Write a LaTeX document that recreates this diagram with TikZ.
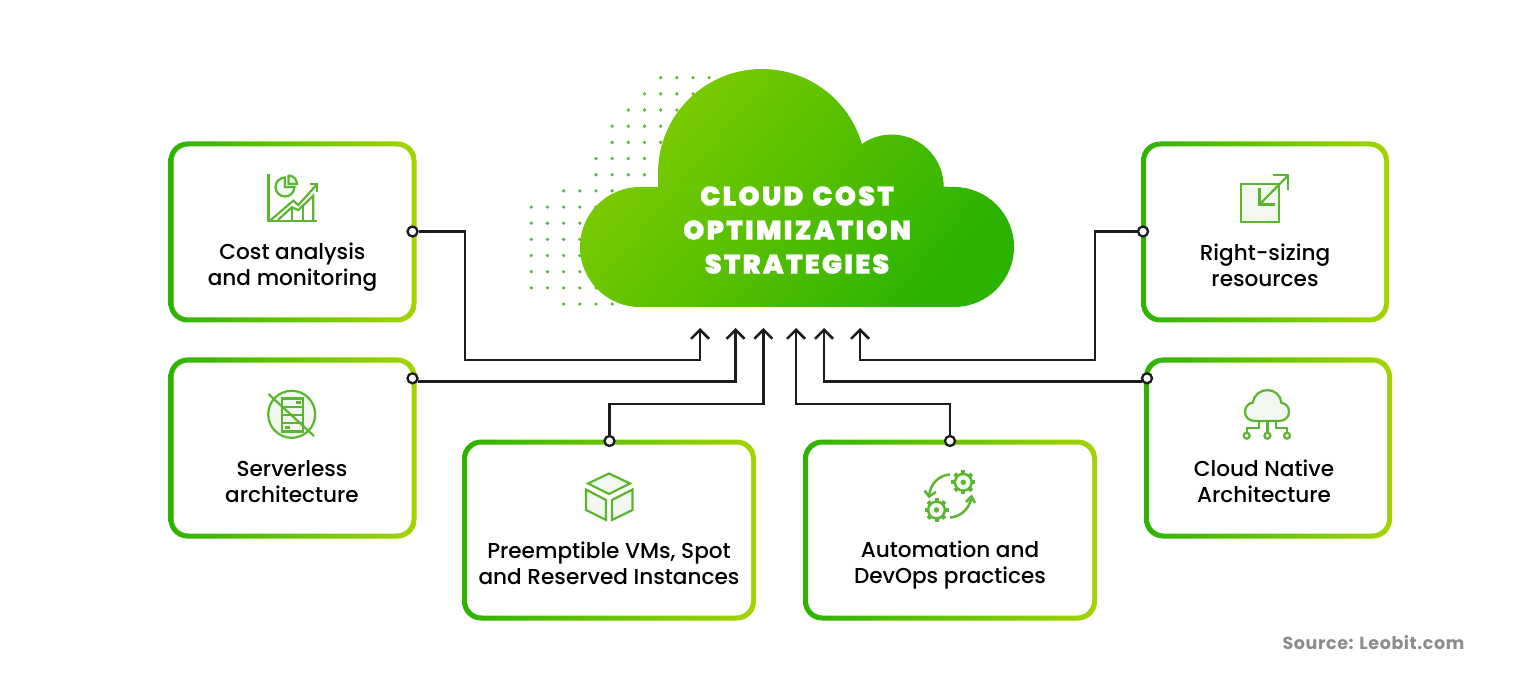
\documentclass[tikz,border=0pt]{standalone}
\usepackage{fontspec}
\setmainfont{Poppins Medium}
\newfontfamily\titlef{Poppins Black}[LetterSpace=8,WordSpace=1.3,FakeBold=0.6]
\newfontfamily\srcf{Poppins}[BoldFont=* Bold,LetterSpace=3.4]
\usetikzlibrary{arrows.meta}
\definecolor{gl}{HTML}{2DB300}
\definecolor{gr}{HTML}{A3D400}
\definecolor{cl}{HTML}{80CC00}
\definecolor{cd}{HTML}{2BB300}
\definecolor{ic}{HTML}{5AB52F}
\definecolor{pale}{HTML}{F2F7EF}
\definecolor{ink}{HTML}{1C1C1C}
\tikzset{
 outerbox/.style={rounded corners=19,left color=gl,right color=gr,draw=none,minimum height=181,inner sep=0},
 innerbox/.style={rounded corners=15,fill=white,draw=none,minimum height=171,inner sep=0},
 label/.style={align=center,font=\fontsize{21.6}{26}\selectfont,text=black,inner sep=0},
 port/.style={circle,draw=ink,fill=white,line width=2.3,minimum size=10,inner sep=0},
 conn/.style={draw=ink,line width=2.5,-{Straight Barb[length=9,width=18,line width=2.5]}},
 iconl/.style={draw=ic,line width=2.2,line cap=butt,line join=miter},
 ttl/.style={text=white,inner sep=0,font=\titlef\fontsize{27}{34}\selectfont},
}
\begin{document}
\begin{tikzpicture}[x=1pt,y=-1pt]
\useasboundingbox (0,0) rectangle (1536,700);
% dot texture
\foreach \j/\a/\b in {0/8/11,1/7/11,2/6/11,3/5/11,4/5/11,5/4/11,6/4/11,7/2/8,8/0/5,9/0/5,10/0/5,11/0/5,12/0/5,13/0/5,14/2/5}{
  \foreach \k in {\a,...,\b}{
    \fill[ic] ({531.3+16.17*\k},{77.7+16.17*\j}) circle (1.8);
  }
}
% cloud
\shade[top color=cl,bottom color=cd,shading angle=50]
  (640,307) arc[start angle=90,end angle=270,radius=60] -- (658,187) -- (658,173)
  arc[start angle=180,end angle=343.8,radius=104]
  arc[start angle=235,end angle=360,radius=52] -- (954,187)
  arc[start angle=270,end angle=450,radius=60] -- cycle;
\node[ttl] (t1) at (797,196) {CLOUD COST};
\node[ttl] (t2) at (797,230) {OPTIMIZATION};
\node[ttl] (t3) at (797,264) {STRATEGIES};
% boxes
\node[outerbox,minimum width=248] (a) at (292.5,232) {};
\node[innerbox,minimum width=238] at (a) {};
\node[outerbox,minimum width=248] (b) at (292.5,448) {};
\node[innerbox,minimum width=238] at (b) {};
\node[outerbox,minimum width=294] (c) at (609,530) {};
\node[innerbox,minimum width=284] at (c) {};
\node[outerbox,minimum width=294] (d) at (950,530) {};
\node[innerbox,minimum width=284] at (d) {};
\node[outerbox,minimum width=248] (e) at (1265,232) {};
\node[innerbox,minimum width=238] at (e) {};
\node[outerbox,minimum width=248] (f) at (1268,448) {};
\node[innerbox,minimum width=238] at (f) {};
% labels
\node[label] (la) at (292.5,267) {Cost analysis\\and monitoring};
\node[label] (lb) at (292,482) {Serverless\\architecture};
\node[label] (lc) at (609,563) {Preemptible VMs, Spot\\and Reserved Instances};
\node[label] (ld) at (950,565) {Automation and\\DevOps practices};
\node[label] (le) at (1265,265) {Right-sizing\\resources};
\node[label] (lf) at (1264,481) {Cloud Native\\Architecture};
\node[text=black!45,inner sep=0,font=\srcf\bfseries\fontsize{17.5}{20}\selectfont] (src) at (1373.5,643) {Source: Leobit.com};
% ports and connectors
\node[port] (pa) at (412.5,231.5) {};
\node[port] (pb) at (412.5,378.3) {};
\node[port] (pc) at (609.5,441) {};
\node[port] (pd) at (950,441) {};
\node[port] (pe) at (1143,231.5) {};
\node[port] (pf) at (1147,378.3) {};
\coordinate (ja) at (465,360);
\coordinate (je) at (1095,360);
\coordinate (jc) at (609.5,404);
\coordinate (jd) at (950,404);
\coordinate (ta) at (700,328);
\coordinate (tb) at (735.5,328);
\coordinate (tc) at (763.3,328);
\coordinate (td) at (796,328);
\coordinate (tf) at (824,328);
\coordinate (te) at (860,328);
\draw[conn] (pa) -| (ja) -| (ta);
\draw[conn] (pb.-30) -| (tb);
\draw[conn] (pc) -- (jc) -| (tc);
\draw[conn] (pd) -- (jd) -| (td);
\draw[conn] (pf.210) -| (tf);
\draw[conn] (pe) -| (je) -| (te);
% icon A chart
\begin{scope}[iconl]
 \draw (268.5,174) -- (268.5,221) -- (317,221);
 \draw (270,220.7) -- (293.3,200.7) -- (298.3,205) -- (316,185.5);
 \draw (309.5,184.3) -- (316.7,184.3) -- (316.7,192);
 \draw (278,220) -- (291.7,207.3) -- (298.3,210) -- (313.3,195.7) -- (313.3,220);
 \draw (291.7,207.3) -- (291.7,220) (303.3,206) -- (303.3,220);
 \draw[fill=pale] (285,177.5) arc[start angle=270,end angle=0,radius=9.5] -- (285,187) -- cycle;
 \draw[fill=pale] (288.5,175) -- (288.5,184) -- (297,184) arc[start angle=0,end angle=-90,radius=8.5] -- cycle;
\end{scope}
% icon B serverless
\begin{scope}[iconl]
 \draw[fill=pale] (291.7,414.3) circle (23.5);
 \draw[fill=pale] (282,398.5) rectangle (303,431.5);
 \draw (282,406.7) -- (303,406.7) (282,415) -- (303,415) (282,423.2) -- (303,423.2);
 \draw (268.5,394) -- (314,436);
 \draw (296,402.5) -- (301,402.5) (285,427.5) -- (290,427.5);
\end{scope}
% icon C cube
\begin{scope}[iconl]
 \draw[fill=pale] (609,473.5) -- (630,483.5) -- (609,494) -- (588,483.5) -- cycle;
 \draw[fill=pale] (586,489.5) -- (606,500) -- (606,520) -- (586,510) -- cycle;
 \draw[fill=pale] (632.5,489.5) -- (612,500) -- (612,520) -- (632.5,510) -- cycle;
\end{scope}
% icon D gears
\begin{scope}[iconl]
 \foreach \cx/\cy in {963.3/482.3,936.5/510}{
  \foreach \r in {0,45,...,315}{
    \draw[line width=4] ({\cx+8.5*cos(\r)},{\cy+8.5*sin(\r)}) -- ({\cx+12*cos(\r)},{\cy+12*sin(\r)});
  }
  \draw[line width=2.4,fill=pale] (\cx,\cy) circle (8.4);
  \fill[ic] (\cx,\cy) circle (2.7);
 }
 \draw[line width=2.5] (950,474.5) .. controls (939,475) and (930,484) .. (929,496);
 \draw[line width=2.5] (924.5,490.5) -- (929,496.5) -- (936,492);
 \draw[line width=2.5] (950,517.5) .. controls (961,517) and (970,508) .. (971.5,497);
 \draw[line width=2.5] (966,502) -- (971.5,496.5) -- (975,503);
\end{scope}
% icon E resize
\begin{scope}[iconl]
 \draw[fill=pale] (1240.7,184) rectangle (1279,222.3);
 \draw (1259.5,204.5) -- (1288,175.5);
 \draw (1259.5,188.5) -- (1259.5,204.5) -- (1275,204.5);
 \draw (1272.5,175) -- (1288.3,175) -- (1288.3,190);
\end{scope}
% icon F cloud network
\begin{scope}[iconl]
 \draw[fill=pale] (1255,421) .. controls (1242,421) and (1242,404) .. (1253,402.5)
   .. controls (1255,386) and (1280,386) .. (1281,402.5)
   .. controls (1292,404) and (1292,421) .. (1279,421) -- cycle;
 \draw (1259.3,421) -- (1259.3,428) -- (1246.7,428) -- (1246.7,432.7)
       (1267.4,421) -- (1267.4,432.7)
       (1275.7,421) -- (1275.7,428) -- (1287,428) -- (1287,432.7);
 \draw (1246.7,435.7) circle (3) (1267.4,435.7) circle (3) (1287,435.7) circle (3);
\end{scope}
\end{tikzpicture}
\end{document}
